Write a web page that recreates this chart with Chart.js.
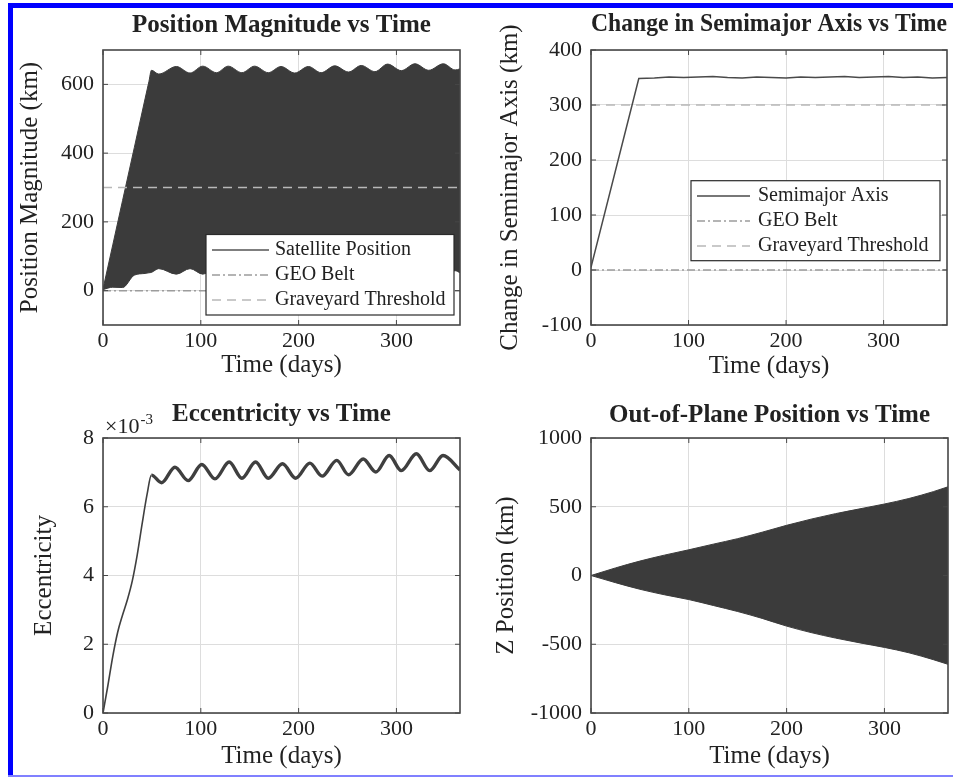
<!DOCTYPE html>
<html>
<head>
<meta charset="utf-8">
<title>Orbit evolution</title>
<script src="https://cdn.jsdelivr.net/npm/chart.js@4.4.1/dist/chart.umd.min.js"></script>
<style>
  html, body { margin: 0; padding: 0; background: #ffffff; }
  #page { position: relative; width: 953px; height: 779px; overflow: hidden; background: #ffffff; }
  #page canvas { position: absolute; left: 0; top: 0; }
  .edge { position: absolute; background: #0000ff; }
</style>
</head>
<body>
<div id="page">
  <canvas id="pos" width="953" height="779"></canvas>
  <canvas id="sma" width="953" height="779"></canvas>
  <canvas id="ecc" width="953" height="779"></canvas>
  <canvas id="zpos" width="953" height="779"></canvas>
  <div class="edge" style="left:8px;top:3px;width:5px;height:774px;"></div>
  <div class="edge" style="left:8px;top:3px;width:945px;height:5px;"></div>
  <div class="edge" style="left:8px;top:775px;width:945px;height:2px;background:#8080ff;"></div>
</div>
<script>
// ------------------------------------------------------------------ data
const timeRange = [0, 365];
const dayTicks = [0, 100, 200, 300];
const geoBeltKm = 0;
const graveyardKm = 300;

// Position magnitude: envelope of the (daily) oscillating signal
const posDays    = [0, 10, 20, 32, 43, 47, 49.5, 57, 75, 89, 102, 116, 128, 142, 155, 169, 182, 196, 210, 223, 237, 251, 264, 278, 291, 305, 319, 333, 348, 360, 365];
const posUpperKm = [5, 133, 262, 416, 558, 609, 641, 630, 652, 633, 653, 634, 653, 634, 653, 634, 652, 633, 652, 634, 654, 636, 655, 637, 659, 640, 660, 641, 660, 642, 645];
const posLowerKm = [3, 10, 9, 45, 50, 52, 53, 64, 48, 64, 48, 62, 47, 62, 47, 62, 47, 62, 47, 62, 47, 62, 47, 62, 47, 62, 47, 62, 50, 58, 52];
const posTicks = [0, 200, 400, 600];
const posRange = [-100, 700];

// Change in semimajor axis
const smaDays     = [0, 49, 65, 80, 95, 110, 125, 140, 155, 170, 185, 200, 215, 230, 245, 260, 275, 290, 305, 320, 335, 350, 365];
const smaChangeKm = [5, 348, 349, 351, 350, 351, 352, 350, 349, 351, 350, 349, 351, 350, 351, 352, 350, 351, 352, 350, 351, 349, 350];
const smaTicks = [-100, 0, 100, 200, 300, 400];
const smaRange = [-100, 400];

// Eccentricity
const eccDays   = [0, 5, 10, 15, 20, 25, 30, 35, 40, 45, 49.5, 60, 73.5, 87, 101, 114.5, 129, 142, 156, 169, 183.5, 197, 211.5, 224, 239, 251, 266, 279, 292.6, 305, 320.4, 334, 347.6, 365];
const eccValues = [0, 0.0008, 0.00165, 0.00235, 0.00285, 0.0033, 0.00385, 0.0046, 0.0055, 0.00635, 0.00692, 0.0067, 0.00715, 0.00676, 0.00723, 0.00681, 0.0073, 0.00683, 0.0073, 0.00683, 0.00725, 0.00683, 0.00727, 0.00689, 0.00735, 0.00693, 0.00739, 0.00701, 0.00749, 0.00705, 0.00754, 0.00705, 0.00749, 0.00707];
const eccTicks = [0, 0.002, 0.004, 0.006, 0.008];
const eccRange = [0, 0.008];
const eccExponent = '-3';

// Out-of-plane position: envelope of the oscillating signal
const zDays    = [0, 25, 50, 75, 100, 125, 150, 175, 200, 225, 250, 275, 300, 325, 350, 365];
const zUpperKm = [0, 55, 105, 148, 187, 228, 268, 315, 365, 410, 450, 485, 520, 560, 610, 645];
const zLowerKm = [0, -52, -100, -140, -175, -218, -262, -312, -368, -415, -455, -490, -523, -562, -612, -646];
const zTicks = [-1000, -500, 0, 500, 1000];
const zRange = [-1000, 1000];

// ------------------------------------------------------------------ style
const W = 953, H = 779;
const FONT = "'Liberation Serif', 'Times New Roman', serif";
const TEXT = '#222222';
const GRID = '#dddddd';
const FRAME = '#474747';
const DARK = '#3b3b3b';
const LINE = '#4a4a4a';
const GEO_COLOR = '#9c9c9c';
const GRAVE_COLOR = '#b8b8b8';
const GEO_DASH = [8, 3, 2, 3];
const GRAVE_DASH = [9, 6];
const TITLE_SIZE = 25, LABEL_SIZE = 25, TICK_SIZE = 22;
const HALF_T = TITLE_SIZE * 1.2 / 2, HALF_L = LABEL_SIZE * 1.2 / 2;

const pts = (xs, ys) => xs.map((x, i) => ({ x: x, y: ys[i] }));

// MATLAB-like box with inward ticks
const matlabBox = {
  id: 'matlabBox',
  afterDatasetsDraw(chart) {
    const { ctx, chartArea: a, scales } = chart;
    const x = scales.x, y = scales.y;
    ctx.save();
    ctx.strokeStyle = FRAME;
    ctx.lineWidth = 1;
    ctx.beginPath();
    const tl = 5;
    x.ticks.forEach(t => {
      const px = x.getPixelForValue(t.value);
      ctx.moveTo(px, a.bottom); ctx.lineTo(px, a.bottom - tl);
      ctx.moveTo(px, a.top); ctx.lineTo(px, a.top + tl);
    });
    y.ticks.forEach(t => {
      const py = y.getPixelForValue(t.value);
      ctx.moveTo(a.left, py); ctx.lineTo(a.left + tl, py);
      ctx.moveTo(a.right, py); ctx.lineTo(a.right - tl, py);
    });
    ctx.stroke();
    ctx.lineWidth = 1.6;
    ctx.strokeRect(a.left, a.top, a.right - a.left, a.bottom - a.top);
    ctx.restore();
  }
};

// legend box placed inside the axes (like MATLAB's legend)
const boxLegend = {
  id: 'boxLegend',
  afterDraw(chart, args, opts) {
    if (!opts || !opts.display) return;
    const { ctx, chartArea: a } = chart;
    const items = chart.data.datasets.filter(d => d.inLegend);
    const left = a.left + opts.left, top = a.top + opts.top;
    ctx.save();
    ctx.fillStyle = '#ffffff';
    ctx.fillRect(left, top, opts.width, opts.height);
    ctx.strokeStyle = '#2a2a2a';
    ctx.lineWidth = 1.2;
    ctx.strokeRect(left, top, opts.width, opts.height);
    ctx.font = '20px ' + FONT;
    ctx.textBaseline = 'middle';
    ctx.textAlign = 'left';
    items.forEach((d, i) => {
      const yy = top + opts.firstRow + i * opts.rowGap;
      ctx.save();
      ctx.strokeStyle = d.legendColor || d.borderColor;
      ctx.lineWidth = d.legendWidth || d.borderWidth;
      ctx.setLineDash(d.borderDash || []);
      ctx.beginPath();
      ctx.moveTo(left + opts.lineStart, yy);
      ctx.lineTo(left + opts.lineEnd, yy);
      ctx.stroke();
      ctx.restore();
      ctx.fillStyle = TEXT;
      ctx.fillText(d.label, left + opts.textStart, yy);
    });
    ctx.restore();
  }
};

// "x10^-3" multiplier at the top of the y axis
const axisExponent = {
  id: 'axisExponent',
  afterDraw(chart, args, opts) {
    if (!opts || !opts.exponent) return;
    const { ctx, chartArea: a } = chart;
    ctx.save();
    ctx.fillStyle = TEXT;
    ctx.textBaseline = 'alphabetic';
    ctx.textAlign = 'left';
    ctx.font = '22px ' + FONT;
    const base = '\u00d710';
    ctx.fillText(base, a.left + 2, a.top - 5);
    const w = ctx.measureText(base).width;
    ctx.font = '15px ' + FONT;
    ctx.fillText(opts.exponent, a.left + 2 + w + 1, a.top - 14);
    ctx.restore();
  }
};

function makeChart(id, spec) {
  const area = spec.area; // [left, top, right, bottom] of the axes box
  const padLeft = spec.yTitleX - 20;
  const padTop = spec.titleY - 20;
  const padBottom = H - (spec.xTitleY + 20);
  const yWidth = area[0] - padLeft;
  const xHeight = (spec.xTitleY + 20) - area[3];
  return new Chart(document.getElementById(id), {
    type: 'line',
    data: { datasets: spec.datasets },
    plugins: [matlabBox, boxLegend, axisExponent],
    options: {
      responsive: false,
      animation: false,
      events: [],
      layout: { padding: { left: padLeft, top: padTop, right: W - area[2], bottom: padBottom } },
      elements: { point: { radius: 0 } },
      scales: {
        x: {
          type: 'linear', min: timeRange[0], max: timeRange[1],
          afterBuildTicks: s => { s.ticks = dayTicks.map(v => ({ value: v })); },
          afterFit: s => { s.height = xHeight; },
          ticks: { font: { family: FONT, size: TICK_SIZE }, color: TEXT, padding: 3, maxRotation: 0, autoSkip: false, callback: v => String(v) },
          grid: { color: GRID, lineWidth: 1, drawTicks: false },
          border: { display: false },
          title: { display: true, text: 'Time (days)', font: { family: FONT, size: LABEL_SIZE }, color: TEXT, padding: { top: 0, bottom: 20 - HALF_L } }
        },
        y: {
          type: 'linear', min: spec.yRange[0], max: spec.yRange[1],
          afterBuildTicks: s => { s.ticks = spec.yTicks.map(v => ({ value: v })); },
          afterFit: s => { s.width = yWidth; },
          ticks: { font: { family: FONT, size: TICK_SIZE }, color: TEXT, padding: 9, autoSkip: false, callback: spec.yFormat || (v => String(v)) },
          grid: { color: GRID, lineWidth: 1, drawTicks: false },
          border: { display: false },
          title: { display: true, text: spec.yTitle, font: { family: FONT, size: LABEL_SIZE }, color: TEXT, padding: { top: 20 - HALF_L, bottom: 0 } }
        }
      },
      plugins: {
        legend: { display: false },
        tooltip: { enabled: false },
        title: {
          display: true, text: spec.title, fullSize: false, color: TEXT,
          font: { family: FONT, size: TITLE_SIZE, weight: 'bold' },
          padding: { top: 20 - HALF_T, bottom: area[1] - spec.titleY - HALF_T }
        },
        boxLegend: spec.legend || { display: false },
        axisExponent: spec.exponent ? { exponent: spec.exponent } : {}
      }
    }
  });
}

const geoLine = (legend) => ({ label: 'GEO Belt', data: pts(timeRange, [geoBeltKm, geoBeltKm]), borderColor: GEO_COLOR, borderDash: GEO_DASH, borderWidth: 1.5, fill: false, order: 0, inLegend: legend });
const graveLine = (legend) => ({ label: 'Graveyard Threshold', data: pts(timeRange, [graveyardKm, graveyardKm]), borderColor: GRAVE_COLOR, borderDash: GRAVE_DASH, borderWidth: 1.5, fill: false, order: 0, inLegend: legend });

// 1. Position magnitude
makeChart('pos', {
  area: [103, 50, 460, 325], titleY: 26, yTitleX: 30, xTitleY: 365,
  title: 'Position Magnitude vs Time', yTitle: 'Position Magnitude (km)',
  yRange: posRange, yTicks: posTicks,
  datasets: [
    { label: 'Satellite Position', data: pts(posDays, posUpperKm), borderColor: DARK, backgroundColor: DARK, borderWidth: 1, fill: '+1', cubicInterpolationMode: 'monotone', order: 2, inLegend: true, legendColor: '#555555', legendWidth: 1.5 },
    { label: 'lower envelope', data: pts(posDays, posLowerKm), borderColor: DARK, borderWidth: 1, fill: false, cubicInterpolationMode: 'monotone', order: 2 },
    geoLine(true), graveLine(true)
  ],
  legend: { display: true, left: 103, top: 184.5, width: 248, height: 80.5, firstRow: 15.5, rowGap: 25, lineStart: 6, lineEnd: 63, textStart: 69 }
});

// 2. Change in semimajor axis
makeChart('sma', {
  area: [591, 50, 947, 325], titleY: 24.5, yTitleX: 510.5, xTitleY: 366.5,
  title: 'Change in Semimajor Axis vs Time', yTitle: 'Change in Semimajor Axis (km)',
  yRange: smaRange, yTicks: smaTicks,
  datasets: [
    { label: 'Semimajor Axis', data: pts(smaDays, smaChangeKm), borderColor: LINE, borderWidth: 1.5, fill: false, order: 1, inLegend: true },
    geoLine(true), graveLine(true)
  ],
  legend: { display: true, left: 100, top: 130.7, width: 249, height: 80, firstRow: 15.3, rowGap: 25, lineStart: 6, lineEnd: 59, textStart: 67 }
});

// 3. Eccentricity
makeChart('ecc', {
  area: [103, 438, 460, 713], titleY: 414.7, yTitleX: 44, xTitleY: 756,
  title: 'Eccentricity vs Time', yTitle: 'Eccentricity',
  yRange: eccRange, yTicks: eccTicks, yFormat: v => String(Math.round(v * 1000)),
  exponent: eccExponent,
  datasets: [
    { label: 'Eccentricity', data: pts(eccDays, eccValues), borderColor: '#3f3f3f', borderWidth: 1.6, fill: false, cubicInterpolationMode: 'monotone',
      segment: { borderWidth: c => (c.p0.parsed.x >= 49 ? 3.4 : 1.6) } }
  ]
});

// 4. Out-of-plane position
makeChart('zpos', {
  area: [591, 438, 948, 713], titleY: 416, yTitleX: 506.5, xTitleY: 756,
  title: 'Out-of-Plane Position vs Time', yTitle: 'Z Position (km)',
  yRange: zRange, yTicks: zTicks,
  datasets: [
    { label: 'Z upper', data: pts(zDays, zUpperKm), borderColor: DARK, backgroundColor: DARK, borderWidth: 1, fill: '+1', cubicInterpolationMode: 'monotone' },
    { label: 'Z lower', data: pts(zDays, zLowerKm), borderColor: DARK, borderWidth: 1, fill: false, cubicInterpolationMode: 'monotone' }
  ]
});
</script>
</body>
</html>
